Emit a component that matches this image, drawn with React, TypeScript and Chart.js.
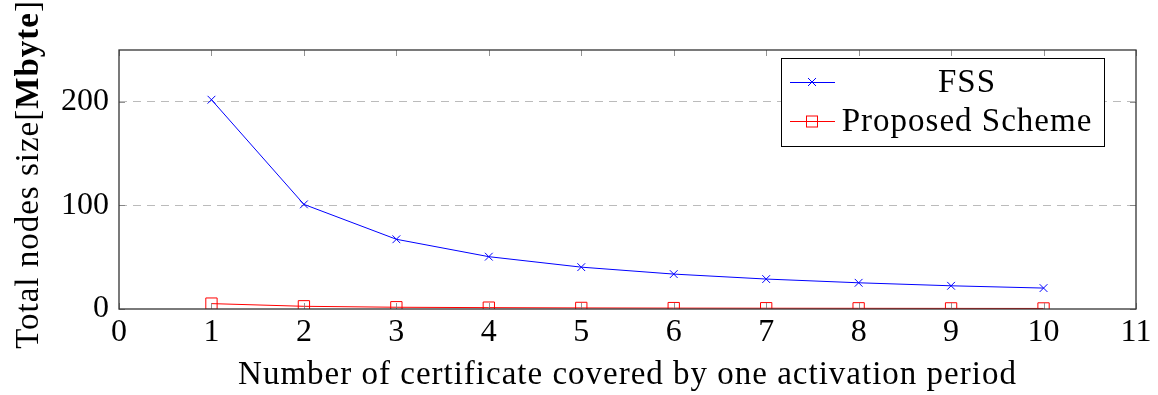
import React, { useEffect, useRef } from "react";
import { Chart, registerables } from "chart.js";

Chart.register(...registerables);

const xValues = [1, 2, 3, 4, 5, 6, 7, 8, 9, 10];
const fssValues = [202, 101, 67.3, 50.5, 40.4, 33.7, 28.9, 25.3, 22.4, 20.2];
const proposedValues = [5.2, 2.6, 1.7, 1.3, 1.04, 0.87, 0.74, 0.65, 0.58, 0.52];
const yTickValues = [0, 100, 200];
const seriesNames = ["FSS", "Proposed Scheme"];
const xTitle = "Number of certificate covered by one activation period";
const yTitleParts = ["Total nodes size[", "Mbyte", "]"];

const FONT = "'Liberation Serif', 'DejaVu Serif', serif";
const LS = "1px";
const TS = 33;

const decorPlugin = {
  id: "decor",
  afterDraw(chart: any) {
    const { ctx, chartArea: a, scales } = chart;
    const xs = scales.x;
    const ys = scales.y;
    ctx.save();
    // inner ticks
    ctx.strokeStyle = "rgba(120,120,120,0.8)";
    ctx.lineWidth = 1;
    const tl = 6;
    for (let v = 0; v <= 11; v++) {
      const px = Math.round(xs.getPixelForValue(v)) + 0.5;
      ctx.beginPath();
      ctx.moveTo(px, a.bottom);
      ctx.lineTo(px, a.bottom - tl);
      ctx.moveTo(px, a.top);
      ctx.lineTo(px, a.top + tl);
      ctx.stroke();
    }
    for (const v of yTickValues) {
      const py = Math.round(ys.getPixelForValue(v)) + 0.5;
      ctx.beginPath();
      ctx.moveTo(a.left, py);
      ctx.lineTo(a.left + tl, py);
      ctx.moveTo(a.right, py);
      ctx.lineTo(a.right - tl, py);
      ctx.stroke();
    }
    // frame
    ctx.strokeStyle = "#333";
    ctx.lineWidth = 1.3;
    ctx.strokeRect(a.left, a.top, a.right - a.left, a.bottom - a.top);

    // x title
    ctx.fillStyle = "#000";
    ctx.font = `${TS}px ${FONT}`;
    (ctx as any).letterSpacing = LS;
    ctx.textAlign = "center";
    ctx.textBaseline = "middle";
    ctx.fillText(xTitle, (a.left + a.right) / 2, 375);

    // y title (mixed bold)
    ctx.save();
    ctx.translate(29, (a.top + a.bottom) / 2 - 5);
    ctx.rotate(-Math.PI / 2);
    const fonts = [`${TS}px ${FONT}`, `bold ${TS}px ${FONT}`, `${TS}px ${FONT}`];
    let total = 0;
    const widths = yTitleParts.map((t, i) => {
      ctx.font = fonts[i];
      const w = ctx.measureText(t).width;
      total += w;
      return w;
    });
    let cx = -total / 2;
    ctx.textAlign = "left";
    yTitleParts.forEach((t, i) => {
      ctx.font = fonts[i];
      ctx.fillText(t, cx, 0);
      cx += widths[i];
    });
    ctx.restore();

    // legend
    const lx = 781, ly = 58, lw = 323, lh = 88;
    ctx.fillStyle = "#fff";
    ctx.fillRect(lx, ly, lw, lh);
    ctx.strokeStyle = "#000";
    ctx.lineWidth = 1;
    ctx.strokeRect(lx + 0.5, ly + 0.5, lw, lh);
    const rows = [82, 121];
    const colors = ["#0000ff", "#ff0000"];
    rows.forEach((ry, i) => {
      ctx.strokeStyle = colors[i];
      ctx.lineWidth = 1;
      ctx.beginPath();
      ctx.moveTo(790, ry + 0.5);
      ctx.lineTo(835, ry + 0.5);
      ctx.stroke();
      const mx = 812;
      if (i === 0) {
        ctx.beginPath();
        ctx.moveTo(mx - 4, ry - 4);
        ctx.lineTo(mx + 4, ry + 4);
        ctx.moveTo(mx - 4, ry + 4);
        ctx.lineTo(mx + 4, ry - 4);
        ctx.stroke();
      } else {
        ctx.strokeRect(mx - 5.5, ry - 5, 11, 11);
      }
    });
    ctx.fillStyle = "#000";
    ctx.font = `${TS}px ${FONT}`;
    (ctx as any).letterSpacing = LS;
    ctx.textBaseline = "middle";
    ctx.textAlign = "center";
    ctx.fillText(seriesNames[0], 967, rows[0] + 1);
    ctx.fillText(seriesNames[1], 967, rows[1] + 1);
    ctx.restore();
  },
};

export default function App() {
  const ref = useRef<HTMLCanvasElement | null>(null);
  useEffect(() => {
    document.body.style.margin = "0";
    const chart = new Chart(ref.current!, {
      type: "line",
      data: {
        datasets: [
          {
            label: seriesNames[0],
            data: xValues.map((x, i) => ({ x, y: fssValues[i] })),
            borderColor: "#0000ff",
            backgroundColor: "#0000ff",
            borderWidth: 1,
            pointStyle: "crossRot",
            pointRadius: 5.5,
            pointBorderWidth: 1,
            tension: 0,
          },
          {
            label: seriesNames[1],
            data: xValues.map((x, i) => ({ x, y: proposedValues[i] })),
            borderColor: "#ff0000",
            backgroundColor: "rgba(0,0,0,0)",
            borderWidth: 1,
            pointStyle: "rect",
            pointRadius: 8,
            pointBorderWidth: 1,
            tension: 0,
          },
        ],
      },
      options: {
        animation: false,
        responsive: false,
        layout: { padding: { top: 50, right: 22, left: 0, bottom: 0 } },
        plugins: { legend: { display: false }, tooltip: { enabled: false } },
        scales: {
          x: {
            type: "linear",
            min: 0,
            max: 11,
            ticks: {
              stepSize: 1,
              color: "#000",
              font: { family: FONT, size: 32 },
              padding: 4,
            },
            grid: { display: false, drawTicks: false },
            border: { display: false },
            afterFit: (s: any) => {
              s.height = 86;
            },
          },
          y: {
            min: 0,
            max: 250,
            afterBuildTicks: (s: any) => {
              s.ticks = yTickValues.map((v) => ({ value: v }));
            },
            ticks: {
              color: "#000",
              font: { family: FONT, size: 32 },
              padding: 10,
            },
            grid: {
              drawTicks: false,
              color: (c: any) => (c.tick && c.tick.value !== 0 ? "#bbbbbb" : "rgba(0,0,0,0)"),
              lineWidth: 1,
            },
            border: { display: false, dash: [8, 6] },
            afterFit: (s: any) => {
              s.width = 119;
            },
          },
        },
      },
      plugins: [decorPlugin],
    } as any);
    return () => chart.destroy();
  }, []);
  return <canvas ref={ref} width={1158} height={395} style={{ display: "block" }} />;
}
